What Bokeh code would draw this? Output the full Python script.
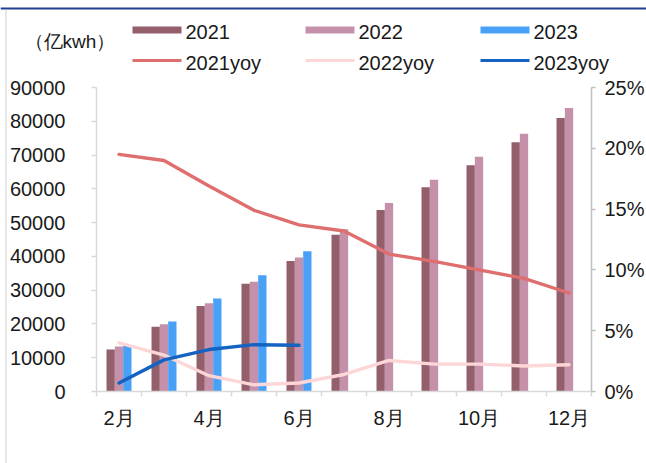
from bokeh.plotting import figure
from bokeh.models import (Range1d, LinearAxis, FixedTicker, NumeralTickFormatter,
                          ColumnDataSource, BoxAnnotation, Label)
from bokeh.transform import dodge
from bokeh.embed import file_html
from bokeh.resources import INLINE

# ---------------- data ----------------
months = ["2月", "3月", "4月", "5月", "6月", "7月", "8月", "9月", "10月", "11月", "12月"]
v2021 = [12400, 19200, 25300, 31900, 38600, 46400, 53700, 60500, 67000, 73800, 81000]
v2022 = [13300, 19900, 26100, 32500, 39700, 48000, 55800, 62700, 69500, 76300, 83900]
v2023 = [13600, 20700, 27500, 34400, 41500]
yoy2021 = [19.5, 19.0, 16.9, 14.9, 13.7, 13.2, 11.3, 10.7, 10.0, 9.3, 8.1]
yoy2022 = [4.0, 3.0, 1.3, 0.55, 0.7, 1.4, 2.55, 2.25, 2.25, 2.1, 2.2]
yoy2023 = [0.7, 2.6, 3.45, 3.85, 3.8]
left_ticks = [0, 10000, 20000, 30000, 40000, 50000, 60000, 70000, 80000, 90000]
right_ticks = [0, 5, 10, 15, 20, 25]
unit_text = "（亿kwh）"

# ---------------- styles / layout ----------------
C2021 = "#925F6B"
C2022 = "#C590AA"
C2023 = "#49A1F7"
L2021 = "#DF6E6E"
L2022 = "#FDD7D7"
L2023 = "#1462C1"
FONT = "Liberation Sans"
FS = "20px"
TXT = "#1a1a1a"

W, H = 646, 463
# plot-area placement on the canvas (pixels)
PX_L, PX_R = 96, 591      # x of first / last category boundary
PX_TOP, PX_BOT = 87, 391  # y of top tick / zero line

n = len(months)
LMAX, RMAX = left_ticks[-1], right_ticks[-1] / 100
ux = n / (PX_R - PX_L)                 # data units per pixel (x)
uyl = LMAX / (PX_BOT - PX_TOP)         # per pixel (left y)
uyr = RMAX / (PX_BOT - PX_TOP)         # per pixel (right y)
x_range = Range1d(-0.5 - PX_L * ux, n - 0.5 + (W - PX_R) * ux)
y_range = Range1d(-(H - PX_BOT) * uyl, LMAX + PX_TOP * uyl)
yoy_range = Range1d(-(H - PX_BOT) * uyr, RMAX + PX_TOP * uyr)


def sx(cx):  # canvas x -> screen units
    return cx


def sy(cy):  # canvas y (top-down) -> screen units (bottom-up)
    return H - cy


idx = list(range(n))
src = ColumnDataSource(dict(x=idx, v2021=v2021, v2022=v2022,
                            yoy2021=[v / 100 for v in yoy2021],
                            yoy2022=[v / 100 for v in yoy2022]))
src23 = ColumnDataSource(dict(x=idx[:len(v2023)], v2023=v2023,
                              yoy2023=[v / 100 for v in yoy2023]))

p = figure(width=W, height=H, output_backend="svg", toolbar_location=None,
           x_range=x_range, y_range=y_range,
           min_border_left=0, min_border_right=0, min_border_top=0, min_border_bottom=0)
p.background_fill_color = "white"
p.border_fill_color = "white"
p.outline_line_color = None
p.xgrid.grid_line_color = None
p.ygrid.grid_line_color = None

p.extra_y_ranges = {"yoy": yoy_range}

bw = 0.185
p.vbar(x=dodge("x", -bw, range=p.x_range), top="v2021", width=bw, source=src,
       fill_color=C2021, line_color=None)
p.vbar(x=dodge("x", 0, range=p.x_range), top="v2022", width=bw, source=src,
       fill_color=C2022, line_color=None)
p.vbar(x=dodge("x", bw, range=p.x_range), top="v2023", width=bw, source=src23,
       fill_color=C2023, line_color=None)

p.line(x="x", y="yoy2021", source=src, y_range_name="yoy", line_color=L2021,
       line_width=3.4, line_join="round", line_cap="round")
p.line(x="x", y="yoy2022", source=src, y_range_name="yoy", line_color=L2022,
       line_width=3.4, line_join="round", line_cap="round")
p.line(x="x", y="yoy2023", source=src23, y_range_name="yoy", line_color=L2023,
       line_width=3.4, line_join="round", line_cap="round")

# bottom axis
xa = p.xaxis[0]
xa.fixed_location = 0
xa.bounds = (-0.5, n - 0.5)
xa.ticker = FixedTicker(ticks=[i for i in idx if i % 2 == 0],
                        minor_ticks=[i - 0.5 for i in range(n + 1)])
xa.major_label_overrides = {i: months[i] for i in idx if i % 2 == 0}
xa.major_tick_out = 0
xa.major_tick_in = 0
xa.minor_tick_out = 5
xa.minor_tick_in = 0
xa.minor_tick_line_color = "#D9D9D9"
xa.minor_tick_line_width = 1.5
xa.axis_line_color = "#D9D9D9"
xa.axis_line_width = 1.5
xa.major_label_standoff = 10
xa.major_label_text_font = FONT
xa.major_label_text_font_size = FS
xa.major_label_text_color = TXT

# left axis
ya = p.yaxis[0]
ya.fixed_location = -0.5
ya.bounds = (0, LMAX)
ya.ticker = FixedTicker(ticks=left_ticks)
ya.formatter = NumeralTickFormatter(format="0")
ya.major_tick_out = 5
ya.major_tick_in = 0
ya.minor_tick_line_color = None
ya.major_tick_line_color = "#D9D9D9"
ya.major_tick_line_width = 1.5
ya.axis_line_color = "#D9D9D9"
ya.axis_line_width = 1.5
ya.major_label_standoff = 26
ya.major_label_text_font = FONT
ya.major_label_text_font_size = FS
ya.major_label_text_color = TXT

# right axis
ra = LinearAxis(y_range_name="yoy", bounds=(0, RMAX), fixed_location=n - 0.5,
                ticker=FixedTicker(ticks=[t / 100 for t in right_ticks]),
                formatter=NumeralTickFormatter(format="0%"))
ra.major_tick_out = 4
ra.major_tick_in = 0
ra.minor_tick_line_color = None
ra.major_tick_line_color = "#BFBFBF"
ra.major_tick_line_width = 1.5
ra.axis_line_color = "#BFBFBF"
ra.axis_line_width = 1.5
ra.major_label_standoff = 9
ra.major_label_text_font = FONT
ra.major_label_text_font_size = FS
ra.major_label_text_color = TXT
p.add_layout(ra, "right")


def box(l, r, t, b, color):
    return BoxAnnotation(left=sx(l), right=sx(r), top=sy(t), bottom=sy(b),
                         left_units="screen", right_units="screen",
                         top_units="screen", bottom_units="screen",
                         fill_color=color, fill_alpha=1, line_color=None, line_alpha=0)


def label(cx, cy, text, size=FS):
    return Label(x=sx(cx), y=sy(cy), x_units="screen", y_units="screen", text=text,
                 text_font=FONT, text_font_size=size, text_color=TXT,
                 text_baseline="middle", text_align="left")


# page decoration
p.add_layout(box(0, W, 7, 9, "#1F3F91"))
p.add_layout(box(5, 6, 9, H, "#D0D0D0"))

# unit label
p.add_layout(label(24, 41, unit_text, "19px"))

# legend (manual)
leg_names = ["2021", "2022", "2023"]
leg_x = [132, 305, 480]
bar_cols = [C2021, C2022, C2023]
line_cols = [L2021, L2022, L2023]
for name, lx, bc, lc in zip(leg_names, leg_x, bar_cols, line_cols):
    p.add_layout(box(lx, lx + 49, 26, 33, bc))
    p.add_layout(box(lx, lx + 49, 58.5, 61.5, lc))
    p.add_layout(label(lx + 53, 31, name))
    p.add_layout(label(lx + 53, 62, name + "yoy"))

open("out.html", "w").write(file_html(p, INLINE))
